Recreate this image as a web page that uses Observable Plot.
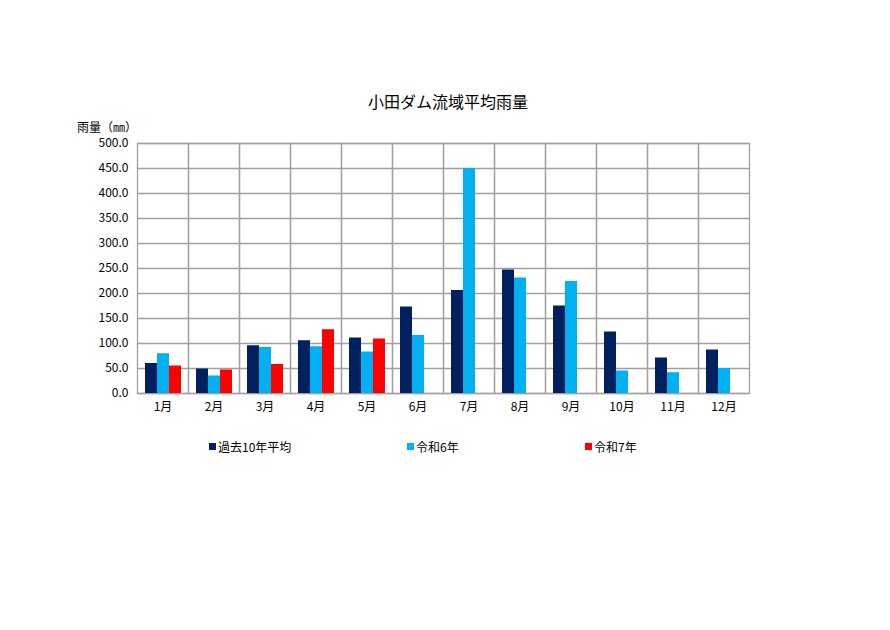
<!DOCTYPE html>
<html><head><meta charset="utf-8">
<script src="https://cdn.jsdelivr.net/npm/d3@7"></script>
<script src="https://cdn.jsdelivr.net/npm/@observablehq/plot@0.6"></script>
<style>
html,body{margin:0;padding:0;background:#fff;}
body{width:890px;height:630px;position:relative;overflow:hidden;font-family:"Noto Sans CJK JP",sans-serif;color:#000;}
#title{position:absolute;top:89px;left:0;width:896px;text-align:center;font-size:16px;}
#ylabel{position:absolute;top:120px;left:77px;font-size:12px;line-height:13px;z-index:2;}
#chart{position:absolute;top:120px;left:0;z-index:1;}
#legend{position:absolute;top:438px;left:0;width:890px;height:20px;font-size:12px;}
.item{position:absolute;top:0;display:flex;align-items:center;white-space:nowrap;}
.sw{width:7px;height:7px;margin-right:2px;}
</style></head>
<body>
<div id="title">小田ダム流域平均雨量</div>
<div id="chart"></div>
<div id="ylabel">雨量（㎜）</div>
<div id="legend"></div>
<script>
const months = ["1月","2月","3月","4月","5月","6月","7月","8月","9月","10月","11月","12月"];
const seriesNames = ["過去10年平均","令和6年","令和7年"];
const colors = ["#002060","#00B0F0","#FF0000"];
const avg10 = [60,49,95.5,105.5,111,173,206,247,175,123,71,87];
const r6 = [79.5,35,92,93.5,83,116,450,231,224,45,41.5,50];
const r7 = [55,47,58,127.5,109,null,null,null,null,null,null,null];
const yTicks = [0,50,100,150,200,250,300,350,400,450,500];

const seriesValues = [avg10, r6, r7];
const data = [];
months.forEach((m,i) => seriesNames.forEach((s,j) => {
  const v = seriesValues[j][i];
  if (v != null) data.push({month:m, series:s, value:v});
}));

const grid = "#a0a0a0";
const chart = Plot.plot({
  width: 890, height: 310,
  marginLeft: 136, marginRight: 141, marginTop: 23, marginBottom: 37,
  style: {fontFamily: '"Noto Sans CJK JP", sans-serif', fontSize: "12px", color: "#000", background: "transparent"},
  fx: {domain: months, padding: 0, label: null, axis: null},
  x: {domain: seriesNames, paddingInner: 0, paddingOuter: 0.625, axis: null},
  y: {domain: [0,500], label: null, axis: null},
  color: {domain: seriesNames, range: colors},
  marks: [
    Plot.gridY(yTicks, {stroke: grid, strokeOpacity: 1, strokeWidth: 1.3}),
    Plot.frame({stroke: grid, strokeWidth: 1.3}),
    Plot.barY(data, {fx: "month", x: "series", y: "value", fill: "series"}),
    Plot.axisY(yTicks, {anchor: "left", tickSize: 0, tickPadding: 9, tickFormat: d => d.toFixed(1), label: null, fontSize: 12}),
    Plot.axisFx({anchor: "bottom", tickSize: 0, tickPadding: 9, label: null, fontSize: 12})
  ]
});
document.getElementById("chart").appendChild(chart);

const legendX = [209, 407, 585];
const legend = document.getElementById("legend");
seriesNames.forEach((s,i) => {
  const d = document.createElement("div");
  d.className = "item";
  d.style.left = legendX[i] + "px";
  d.innerHTML = `<span class="sw" style="background:${colors[i]}"></span><span>${s}</span>`;
  legend.appendChild(d);
});
</script>
</body></html>
